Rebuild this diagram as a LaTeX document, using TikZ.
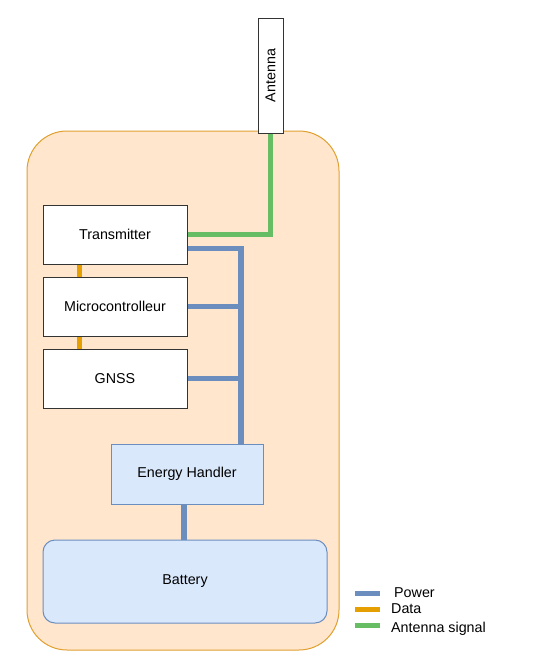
\documentclass[tikz,border=0pt]{standalone}
\usepackage{fontspec}
\setmainfont{Liberation Sans}
\definecolor{contfill}{HTML}{FFE6CC}
\definecolor{contdraw}{HTML}{E0A030}
\definecolor{bluefill}{HTML}{DAE8FC}
\definecolor{bluedraw}{HTML}{6C8EBF}
\definecolor{greenline}{HTML}{66BD63}
\definecolor{orangeline}{HTML}{E69F00}
\definecolor{boxdraw}{HTML}{333333}
\begin{document}
\begin{tikzpicture}[x=1pt,y=-1pt,
  every node/.style={font=\fontsize{14.3}{16}\selectfont, inner sep=0pt},
  whitebox/.style={draw=boxdraw, line width=1pt, fill=white, minimum width=144pt, minimum height=59pt},
  bluebox/.style={draw=bluedraw, line width=1pt, fill=bluefill},
  power/.style={draw=bluedraw, line width=5.5pt},
  dataline/.style={draw=orangeline, line width=5pt},
  antline/.style={draw=greenline, line width=5pt},
  legtext/.style={anchor=west, font=\fontsize{14.3}{16}\selectfont}
]
\useasboundingbox (0,0) rectangle (535,667);
% container
\node[draw=contdraw, line width=1pt, fill=contfill, rounded corners=40pt,
  minimum width=312pt, minimum height=519pt] (cont) at (183,390.5) {};
% antenna
\node[draw=boxdraw, line width=1pt, fill=white, rotate=90,
  minimum width=115pt, minimum height=25pt] (ant) at (270.5,75.5) {Antenna};
% boxes
\node[whitebox] (tx) at (115,234.5) {Transmitter};
\node[whitebox] (mc) at (115,306.5) {Microcontrolleur};
\node[whitebox] (gn) at (115,378.5) {GNSS};
\node[bluebox, minimum width=152pt, minimum height=60pt] (eh) at (187,474) {Energy Handler};
\node[bluebox, rounded corners=12pt, minimum width=284pt, minimum height=83pt] (bat) at (185,581.5) {Battery};
\coordinate (bus) at ([xshift=54pt]eh.north);
% connectors
\draw[antline] (tx.east) -| (ant.west);
\draw[power] ([yshift=-14pt]tx.east) -| (bus);
\draw[power] (mc.east) -- (mc.east -| bus);
\draw[power] (gn.east) -- (gn.east -| bus);
\draw[power] ([xshift=-3pt]eh.south) -- ([xshift=-3pt]eh.south |- bat.north);
\draw[dataline] ([xshift=-36pt]tx.south) -- ([xshift=-36pt]mc.north);
\draw[dataline] ([xshift=-36pt]mc.south) -- ([xshift=-36pt]gn.north);
% legend
\coordinate (l1a) at (355,593); \coordinate (l1b) at (380,593);
\coordinate (l2a) at (355,609); \coordinate (l2b) at (380,609);
\coordinate (l3a) at (355,625); \coordinate (l3b) at (380,625);
\draw[power, line width=5pt] (l1a) -- (l1b);
\draw[dataline] (l2a) -- (l2b);
\draw[antline] (l3a) -- (l3b);
\node[legtext] (t1) at (394,593) {Power};
\node[legtext] (t2) at (391,609) {Data};
\node[legtext] (t3) at (391,629) {Antenna signal};
\end{tikzpicture}
\end{document}
